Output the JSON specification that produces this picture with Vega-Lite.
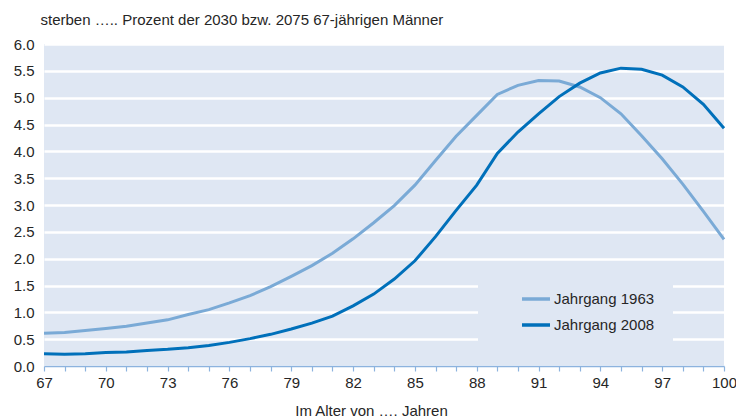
{
  "$schema": "https://vega.github.io/schema/vega-lite/v6.json",
  "width": 680,
  "height": 322,
  "autosize": "none",
  "padding": {"left": 44, "top": 44, "right": 12, "bottom": 52},
  "background": "white",
  "config": {
    "view": {"fill": "#dfe7f3", "stroke": null},
    "font": "Liberation Sans"
  },
  "data": {
    "values": [
      {"age": 67, "jg": "Jahrgang 1963", "v": 0.61},
      {"age": 68, "jg": "Jahrgang 1963", "v": 0.625},
      {"age": 69, "jg": "Jahrgang 1963", "v": 0.66},
      {"age": 70, "jg": "Jahrgang 1963", "v": 0.7},
      {"age": 71, "jg": "Jahrgang 1963", "v": 0.74},
      {"age": 72, "jg": "Jahrgang 1963", "v": 0.8},
      {"age": 73, "jg": "Jahrgang 1963", "v": 0.86},
      {"age": 74, "jg": "Jahrgang 1963", "v": 0.96},
      {"age": 75, "jg": "Jahrgang 1963", "v": 1.05},
      {"age": 76, "jg": "Jahrgang 1963", "v": 1.175},
      {"age": 77, "jg": "Jahrgang 1963", "v": 1.31},
      {"age": 78, "jg": "Jahrgang 1963", "v": 1.48},
      {"age": 79, "jg": "Jahrgang 1963", "v": 1.67},
      {"age": 80, "jg": "Jahrgang 1963", "v": 1.87},
      {"age": 81, "jg": "Jahrgang 1963", "v": 2.1},
      {"age": 82, "jg": "Jahrgang 1963", "v": 2.37},
      {"age": 83, "jg": "Jahrgang 1963", "v": 2.67},
      {"age": 84, "jg": "Jahrgang 1963", "v": 2.99},
      {"age": 85, "jg": "Jahrgang 1963", "v": 3.37},
      {"age": 86, "jg": "Jahrgang 1963", "v": 3.83},
      {"age": 87, "jg": "Jahrgang 1963", "v": 4.28},
      {"age": 88, "jg": "Jahrgang 1963", "v": 4.67},
      {"age": 89, "jg": "Jahrgang 1963", "v": 5.06},
      {"age": 90, "jg": "Jahrgang 1963", "v": 5.23},
      {"age": 91, "jg": "Jahrgang 1963", "v": 5.32},
      {"age": 92, "jg": "Jahrgang 1963", "v": 5.31},
      {"age": 93, "jg": "Jahrgang 1963", "v": 5.2},
      {"age": 94, "jg": "Jahrgang 1963", "v": 5.0},
      {"age": 95, "jg": "Jahrgang 1963", "v": 4.7},
      {"age": 96, "jg": "Jahrgang 1963", "v": 4.29},
      {"age": 97, "jg": "Jahrgang 1963", "v": 3.86},
      {"age": 98, "jg": "Jahrgang 1963", "v": 3.39},
      {"age": 99, "jg": "Jahrgang 1963", "v": 2.88},
      {"age": 100, "jg": "Jahrgang 1963", "v": 2.36},
      {"age": 67, "jg": "Jahrgang 2008", "v": 0.23},
      {"age": 68, "jg": "Jahrgang 2008", "v": 0.22},
      {"age": 69, "jg": "Jahrgang 2008", "v": 0.23},
      {"age": 70, "jg": "Jahrgang 2008", "v": 0.25},
      {"age": 71, "jg": "Jahrgang 2008", "v": 0.26},
      {"age": 72, "jg": "Jahrgang 2008", "v": 0.29},
      {"age": 73, "jg": "Jahrgang 2008", "v": 0.31},
      {"age": 74, "jg": "Jahrgang 2008", "v": 0.34},
      {"age": 75, "jg": "Jahrgang 2008", "v": 0.38},
      {"age": 76, "jg": "Jahrgang 2008", "v": 0.44},
      {"age": 77, "jg": "Jahrgang 2008", "v": 0.51},
      {"age": 78, "jg": "Jahrgang 2008", "v": 0.59},
      {"age": 79, "jg": "Jahrgang 2008", "v": 0.69},
      {"age": 80, "jg": "Jahrgang 2008", "v": 0.8},
      {"age": 81, "jg": "Jahrgang 2008", "v": 0.93},
      {"age": 82, "jg": "Jahrgang 2008", "v": 1.12},
      {"age": 83, "jg": "Jahrgang 2008", "v": 1.34},
      {"age": 84, "jg": "Jahrgang 2008", "v": 1.62},
      {"age": 85, "jg": "Jahrgang 2008", "v": 1.96},
      {"age": 86, "jg": "Jahrgang 2008", "v": 2.41},
      {"age": 87, "jg": "Jahrgang 2008", "v": 2.9},
      {"age": 88, "jg": "Jahrgang 2008", "v": 3.37},
      {"age": 89, "jg": "Jahrgang 2008", "v": 3.96},
      {"age": 90, "jg": "Jahrgang 2008", "v": 4.36},
      {"age": 91, "jg": "Jahrgang 2008", "v": 4.7},
      {"age": 92, "jg": "Jahrgang 2008", "v": 5.02},
      {"age": 93, "jg": "Jahrgang 2008", "v": 5.27},
      {"age": 94, "jg": "Jahrgang 2008", "v": 5.46},
      {"age": 95, "jg": "Jahrgang 2008", "v": 5.55},
      {"age": 96, "jg": "Jahrgang 2008", "v": 5.53},
      {"age": 97, "jg": "Jahrgang 2008", "v": 5.42},
      {"age": 98, "jg": "Jahrgang 2008", "v": 5.2},
      {"age": 99, "jg": "Jahrgang 2008", "v": 4.875},
      {"age": 100, "jg": "Jahrgang 2008", "v": 4.43}
    ]
  },
  "mark": {"type": "line", "strokeWidth": 3},
  "encoding": {
    "x": {
      "field": "age",
      "type": "quantitative",
      "scale": {"domain": [67, 100], "nice": false, "zero": false},
      "axis": {
        "values": [67,68,69,70,71,72,73,74,75,76,77,78,79,80,81,82,83,84,85,86,87,88,89,90,91,92,93,94,95,96,97,98,99,100],
        "labelExpr": "(datum.value - 67) % 3 == 0 ? datum.label : ''",
        "grid": false,
        "domainColor": "#8db3de",
        "domainWidth": 1.5,
        "tickColor": "#8db3de",
        "tickWidth": 1.2,
        "tickSize": 5,
        "labelFontSize": 15,
        "labelColor": "#262626",
        "labelPadding": 4,
        "labelFlush": false,
        "labelOverlap": false,
        "zindex": 1,
        "title": "Im Alter von …. Jahren",
        "titleFontSize": 15,
        "titleFontWeight": "normal",
        "titleColor": "#262626",
        "titleX": 327,
        "titleY": 44,
        "titleAlign": "center",
        "titleBaseline": "middle"
      }
    },
    "y": {
      "field": "v",
      "type": "quantitative",
      "scale": {"domain": [0, 6], "nice": false},
      "axis": {
        "values": [0, 0.5, 1, 1.5, 2, 2.5, 3, 3.5, 4, 4.5, 5, 5.5, 6],
        "format": ".1f",
        "domain": false,
        "ticks": false,
        "gridColor": "white",
        "gridWidth": 2.5,
        "gridOpacity": 1,
        "labelFontSize": 15,
        "labelColor": "#262626",
        "labelPadding": 10,
        "title": "sterben ….. Prozent der 2030 bzw. 2075 67-jährigen Männer",
        "titleAngle": 0,
        "titleX": -4,
        "titleY": -25,
        "titleAlign": "left",
        "titleBaseline": "middle",
        "titleFontSize": 15,
        "titleFontWeight": "normal",
        "titleColor": "#262626"
      }
    },
    "color": {
      "field": "jg",
      "type": "nominal",
      "scale": {"domain": ["Jahrgang 1963", "Jahrgang 2008"], "range": ["#7aaad6", "#0070ba"]},
      "legend": {
        "title": null,
        "orient": "none",
        "legendX": 434,
        "legendY": 221,
        "fillColor": "#dfe7f3",
        "padding": 18,
        "symbolOffset": 24,
        "symbolType": "stroke",
        "symbolSize": 784,
        "symbolStrokeWidth": 3.5,
        "labelFontSize": 15,
        "labelColor": "#262626",
        "labelOffset": 2,
        "rowPadding": 2,
        "labelExpr": "datum.label + '    '"
      }
    }
  }
}
